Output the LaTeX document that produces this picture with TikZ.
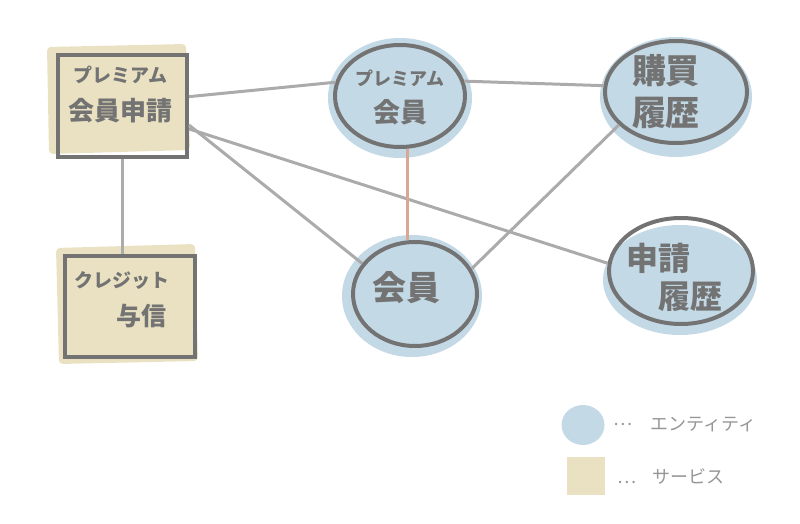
\documentclass[tikz,border=0pt]{standalone}
\usepackage{fontspec}
\setmainfont{Noto Sans CJK JP}
\usetikzlibrary{shapes.geometric, positioning}

\definecolor{entityblue}{HTML}{C3D9E6}
\definecolor{servicetan}{HTML}{E9E1C1}
\definecolor{inkgray}{HTML}{737373}
\definecolor{relgray}{HTML}{ABABAB}
\definecolor{isarose}{HTML}{D8A895}
\definecolor{keygray}{HTML}{969696}

\begin{document}
\begin{tikzpicture}[
  x=0.5pt, y=-0.5pt,
  entity/.style={ellipse, draw=inkgray, line width=2pt, inner sep=0pt},
  service/.style={rectangle, draw=inkgray, line width=2pt, inner sep=0pt},
  etext/.style={align=center, text=inkgray, inner sep=0pt},
  stext/.style={align=left, text=inkgray, inner sep=0pt},
  rel/.style={draw=relgray, line width=1.5pt},
  isa/.style={draw=isarose, line width=1.2pt},
  keyentity/.style={ellipse, fill=entityblue, minimum width=21.5pt, minimum height=20pt, inner sep=0pt},
  keyservice/.style={rectangle, fill=servicetan, minimum size=19pt, inner sep=0pt},
  keytext/.style={text=keygray, inner sep=0pt, font=\fontsize{9}{11}\selectfont}
]
  \useasboundingbox (0,0) rectangle (800,524);

  % Washes behind the shapes
  \fill[servicetan, rounded corners=2pt] (47,47) -- (186,44) -- (190,150) -- (49,154) -- cycle;
  \fill[servicetan, rounded corners=2pt] (56,248) -- (195,244) -- (198,361) -- (59,364) -- cycle;
  \fill[entityblue] (400,98) ellipse [x radius=36pt, y radius=30pt];
  \fill[entityblue] (676,97) ellipse [x radius=38pt, y radius=30pt];
  \fill[entityblue] (412,296) ellipse [x radius=35pt, y radius=30.5pt];
  \fill[entityblue] (680,280) ellipse [x radius=38.5pt, y radius=27.5pt];

  % Services
  \node[service, minimum width=64.5pt, minimum height=51pt] (apply) at (122.5,106) {};
  \node[stext, align=center, font=\bfseries\fontsize{13}{19}\selectfont] (apply-t)
    at ([xshift=-1pt, yshift=5.5pt]apply.center) {{\fontsize{9.5}{19}\selectfont プレミアム}\\会員申請};
  \node[service, minimum width=65pt, minimum height=50.5pt] (credit) at (130,307) {};
  \node[stext, font=\bfseries\fontsize{12.5}{19}\selectfont] (credit-t)
    at ([xshift=-4pt, yshift=3.5pt]credit.center) {{\fontsize{9.5}{19}\selectfont クレジット}\\\hspace{21pt}与信};

  % Entities
  \node[entity, minimum width=65pt, minimum height=51pt] (pm) at (400,96) {};
  \node[etext, font=\bfseries\fontsize{13.5}{18.5}\selectfont] (pm-t)
    at ([yshift=-1pt]pm.center) {{\fontsize{9}{18.5}\selectfont プレミアム}\\会員};
  \node[entity, minimum width=71pt, minimum height=51pt] (buy) at (676,92) {};
  \node[etext, font=\bfseries\fontsize{17}{21}\selectfont] (buy-t)
    at ([xshift=-5pt]buy.center) {購買\\履歴};
  \node[entity, minimum width=62pt, minimum height=52pt] (mem) at (415,294) {};
  \node[etext, font=\bfseries\fontsize{17}{21}\selectfont] (mem-t)
    at ([xshift=-4.5pt, yshift=3pt]mem.center) {会員};
  \node[entity, minimum width=72pt, minimum height=53pt] (app) at (681,271) {};
  \node[stext, font=\bfseries\fontsize{16}{19}\selectfont] (app-t)
    at ([xshift=-3.5pt, yshift=-3pt]app.center) {申請\\\hspace{16pt}履歴};

  % Relations
  \draw[rel] (apply.8) -- (pm.168);
  \draw[rel] (apply.-16) -- (mem.150);
  \draw[rel] (apply.-19) -- (app.174);
  \draw[rel] (pm.13) -- (buy.175);
  \draw[rel] (mem.24) -- (buy.210);
  \draw[rel] (apply.south) -- (apply.south |- credit.north);
  \draw[isa] (pm.-82) -- (pm.-82 |- mem.north);

  % Legend
  \node[keyentity] (key-e) at (583,425) {};
  \node[keytext, right=4pt of key-e] (key-et) {\raisebox{2.5pt}{…}\hspace{9pt}エンティティ};
  \node[keyservice] (key-s) at (586,476) {};
  \node[keytext, right=6pt of key-s] (key-st) {…\hspace{8pt}サービス};
\end{tikzpicture}
\end{document}
